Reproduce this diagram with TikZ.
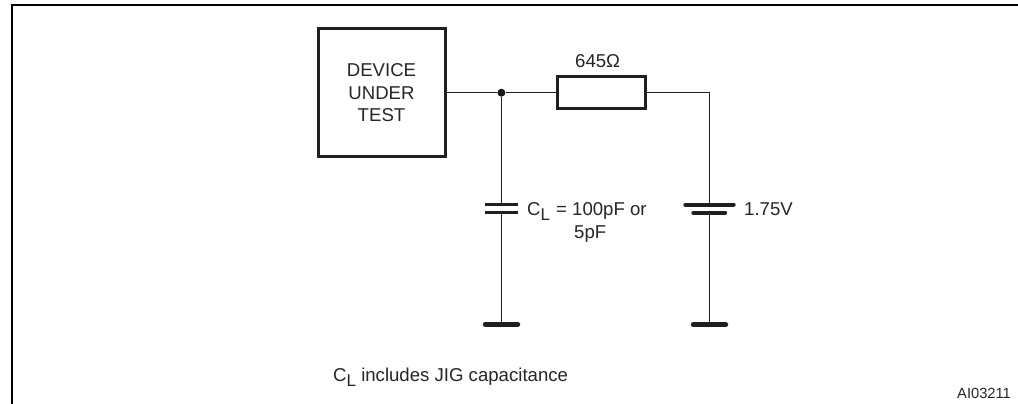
\documentclass[tikz,border=0pt]{standalone}
\usepackage{fontspec}
\setmainfont{Liberation Sans}
\newcommand{\subL}{\raisebox{-5.5pt}{\fontsize{17}{17}\selectfont L}}
\tikzset{
  x=1pt,y=-1pt,
  ink/.style={draw=black!88},
  frameline/.style={draw=black,line width=2pt},
  wire/.style={ink,line width=1.3pt},
  boxed/.style={ink,line width=3pt,fill=white,inner sep=0pt,align=center},
  plate/.style={ink,line width=3.2pt},
  battplate/.style={ink,line width=4.4pt,line cap=round},
  ground/.style={ink,line width=5.5pt,line cap=round},
  lab/.style={inner sep=0pt,anchor=base west,text=black!85,font=\fontsize{18.6}{22.4}\selectfont},
  smalllab/.style={inner sep=0pt,anchor=base west,text=black!85,font=\fontsize{14.7}{17}\selectfont},
  dotnode/.style={circle,fill=black!90,inner sep=0pt,minimum size=8pt},
}
\begin{document}
\begin{tikzpicture}
\useasboundingbox[fill=white] (0,0) rectangle (1018,404);
% frame
\coordinate (fbl) at (12,404);
\coordinate (ftl) at (12,5);
\coordinate (ftr) at (1018,5);
\draw[frameline] (fbl) -- (ftl) -- (ftr);
% nodes
\node[boxed,minimum width=127pt,minimum height=127.5pt,anchor=center,text=black!85,font=\fontsize{18.6}{22.4}\selectfont] (dut) at (381.5,92.7) {DEVICE\\UNDER\\TEST};
\node[boxed,minimum width=88pt,minimum height=32.5pt] (res) at (601.3,92.7) {};
\node[dotnode] (junc) at (501.4,92.7) {};
\coordinate (corner) at (709.3,92.7);
\coordinate (captop) at (501.4,204.3);
\coordinate (capbot) at (501.4,212.7);
\coordinate (capTL) at (485,204.3);
\coordinate (capTR) at (517.5,204.3);
\coordinate (capBL) at (485,212.7);
\coordinate (capBR) at (517.5,212.7);
\coordinate (gnda) at (501.4,324.4);
\coordinate (gndaL) at (485.5,324.4);
\coordinate (gndaR) at (517.5,324.4);
\coordinate (battop) at (709.3,204.7);
\coordinate (batbot) at (709.3,212.7);
\coordinate (batTL) at (685.5,204.7);
\coordinate (batTR) at (733.5,204.7);
\coordinate (batBL) at (693.5,212.7);
\coordinate (batBR) at (725,212.7);
\coordinate (gndb) at (709.3,324.6);
\coordinate (gndbL) at (693.5,324.6);
\coordinate (gndbR) at (725.5,324.6);
% wires
\draw[wire] (dut.east |- junc) -- (junc);
\draw[wire] (junc) -- (res.west |- junc);
\draw[wire,line width=1.5pt] (res.east |- corner) -- (corner) -- (battop);
\draw[wire] (junc) -- (captop);
\draw[wire] (capbot) -- (gnda);
\draw[wire,line width=1.6pt] (batbot) -- (gndb);
% plates
\draw[plate] (capTL) -- (capTR);
\draw[plate] (capBL) -- (capBR);
\draw[battplate] (batTL) -- (batTR);
\draw[battplate] (batBL) -- (batBR);
\draw[ground] (gndaL) -- (gndaR);
\draw[ground] (gndbL) -- (gndbR);
% labels
\node[lab] (lr) at (575,67) {645Ω};
\node[lab] (lc) at (527,215) {C\subL};
\node[lab] (lc2) at (556,215) {= 100pF or};
\node[lab] (lc3) at (574,238) {5pF};
\node[lab] (lv) at (744,215) {1.75V};
\node[lab] (note) at (333,381) {C\subL{} includes JIG capacitance};
\node[smalllab] (ref) at (957,398) {AI03211};
\end{tikzpicture}
\end{document}
